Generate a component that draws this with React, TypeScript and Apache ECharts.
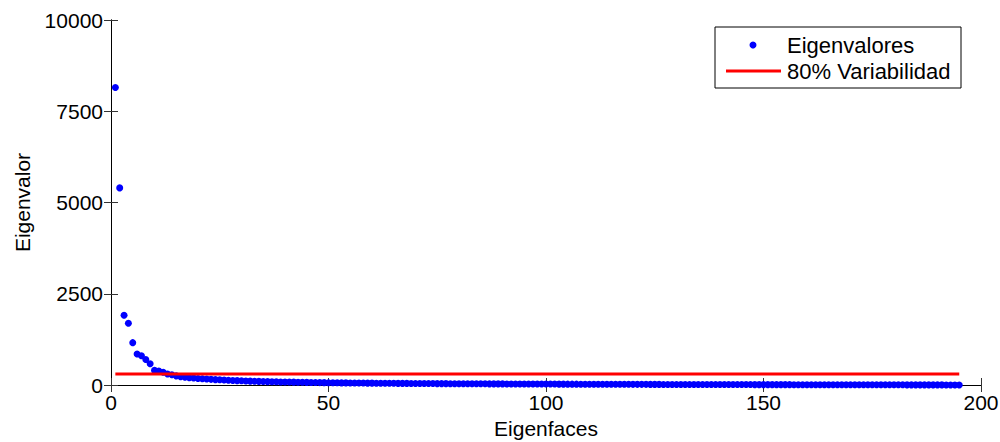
import React, { useEffect, useRef } from "react";
import * as echarts from "echarts";

const eigenvalues: number[] = [
  8150, 5400, 1910, 1690, 1160, 850, 800, 700, 580, 400,
  380, 350, 300, 280, 250, 230, 215, 200, 190, 180,
  170, 162, 155, 148, 142, 136, 130, 125, 120, 115,
  111, 107, 103, 99, 96, 93, 90, 87, 84, 82,
  80, 78, 76, 74, 72, 70, 68, 66, 65, 63,
  62, 60, 59, 58, 56, 55, 54, 53, 52, 51,
  50, 49, 48, 47, 46, 45, 44, 44, 43, 42,
  41, 40, 40, 39, 38, 38, 37, 36, 36, 35,
  34, 34, 33, 33, 32, 32, 31, 31, 30, 30,
  29, 29, 28, 28, 27, 27, 27, 26, 26, 25,
  25, 25, 24, 24, 23, 23, 23, 22, 22, 22,
  21, 21, 21, 20, 20, 20, 19, 19, 19, 18,
  18, 18, 18, 17, 17, 17, 16, 16, 16, 16,
  15, 15, 15, 15, 14, 14, 14, 14, 13, 13,
  13, 13, 12, 12, 12, 12, 12, 11, 11, 11,
  11, 10, 10, 10, 10, 10, 9, 9, 9, 9,
  9, 8, 8, 8, 8, 8, 7, 7, 7, 7,
  7, 7, 6, 6, 6, 6, 6, 5, 5, 5,
  5, 5, 4, 4, 4, 4, 4, 3, 3, 3,
  3, 2, 2, 2, 1,
];
const thresholdValue = 300;
const thresholdRange: number[] = [1, 195];
const legendLabels: string[] = ["Eigenvalores", "80% Variabilidad"];
const xName = "Eigenfaces";
const yName = "Eigenvalor";

const FONT = "'Liberation Sans', Arial, Helvetica, sans-serif";

export default function App() {
  const ref = useRef<HTMLDivElement>(null);
  useEffect(() => {
    document.body.style.margin = "0";
    document.documentElement.style.overflow = "hidden";
    if (!ref.current) return;
    const chart = echarts.init(ref.current, undefined, { renderer: "svg", width: 1000, height: 442 });
    const scatterData = eigenvalues.map((v, i) => [i + 1, v]);
    const lineData = thresholdRange.map((x) => [x, thresholdValue]);
    const axisLine = { show: true, lineStyle: { color: "#000", width: 1 } };
    const axisTick = { show: true, inside: true, length: 7, lineStyle: { color: "#333", width: 1 } };
    const fmt = (v: number) => String(v);
    chart.setOption({
      animation: false,
      backgroundColor: "#fff",
      textStyle: { fontFamily: FONT },
      grid: { left: 111, right: 19, top: 20, bottom: 57, containLabel: false, outerBoundsMode: "none" },
      xAxis: [
        {
          type: "value",
          min: 0,
          max: 200,
          interval: 50,
          position: "bottom",
          name: xName,
          nameLocation: "middle",
          nameGap: 33,
          nameTextStyle: { fontSize: 21, color: "#000", fontFamily: FONT },
          axisLine,
          axisTick,
          axisLabel: { fontSize: 21, color: "#000", margin: 7, fontFamily: FONT, formatter: fmt },
          splitLine: { show: false },
        },
        {
          type: "value",
          min: 0,
          max: 200,
          interval: 50,
          position: "top",
          axisLine,
          axisTick,
          axisLabel: { show: false },
          splitLine: { show: false },
        },
      ],
      yAxis: [
        {
          type: "value",
          min: 0,
          max: 10000,
          interval: 2500,
          position: "left",
          name: yName,
          nameLocation: "middle",
          nameGap: 78,
          nameTextStyle: { fontSize: 21, color: "#000", fontFamily: FONT },
          axisLine,
          axisTick,
          axisLabel: { fontSize: 21, color: "#000", margin: 8, fontFamily: FONT, formatter: fmt },
          splitLine: { show: false },
        },
        {
          type: "value",
          min: 0,
          max: 10000,
          interval: 2500,
          position: "right",
          axisLine,
          axisTick,
          axisLabel: { show: false },
          splitLine: { show: false },
        },
      ],
      series: [
        {
          name: legendLabels[0],
          type: "scatter",
          data: scatterData,
          symbol: "circle",
          symbolSize: 7,
          itemStyle: { color: "#0000ff", opacity: 1 },
          z: 2,
        },
        {
          name: legendLabels[1],
          type: "line",
          data: lineData,
          showSymbol: false,
          symbol: "none",
          lineStyle: { color: "#ff0000", width: 3 },
          z: 3,
        },
      ],
      graphic: [
        {
          type: "group",
          z: 100,
          children: [
            {
              type: "rect",
              shape: { x: 715, y: 27, width: 246, height: 61 },
              style: { fill: "#fff", stroke: "#000", lineWidth: 1 },
            },
            {
              type: "circle",
              shape: { cx: 753, cy: 45, r: 3.5 },
              style: { fill: "#0000ff" },
            },
            {
              type: "line",
              shape: { x1: 726, y1: 71, x2: 781, y2: 71 },
              style: { stroke: "#ff0000", lineWidth: 3 },
            },
            {
              type: "text",
              x: 787,
              y: 45,
              style: {
                text: legendLabels[0],
                fontSize: 22,
                fontFamily: FONT,
                fill: "#000",
                verticalAlign: "middle",
                align: "left",
              },
            },
            {
              type: "text",
              x: 787,
              y: 71,
              style: {
                text: legendLabels[1],
                fontSize: 22,
                fontFamily: FONT,
                fill: "#000",
                verticalAlign: "middle",
                align: "left",
              },
            },
          ],
        },
      ],
    });
    return () => chart.dispose();
  }, []);
  return <div ref={ref} style={{ width: 1000, height: 442 }} />;
}
